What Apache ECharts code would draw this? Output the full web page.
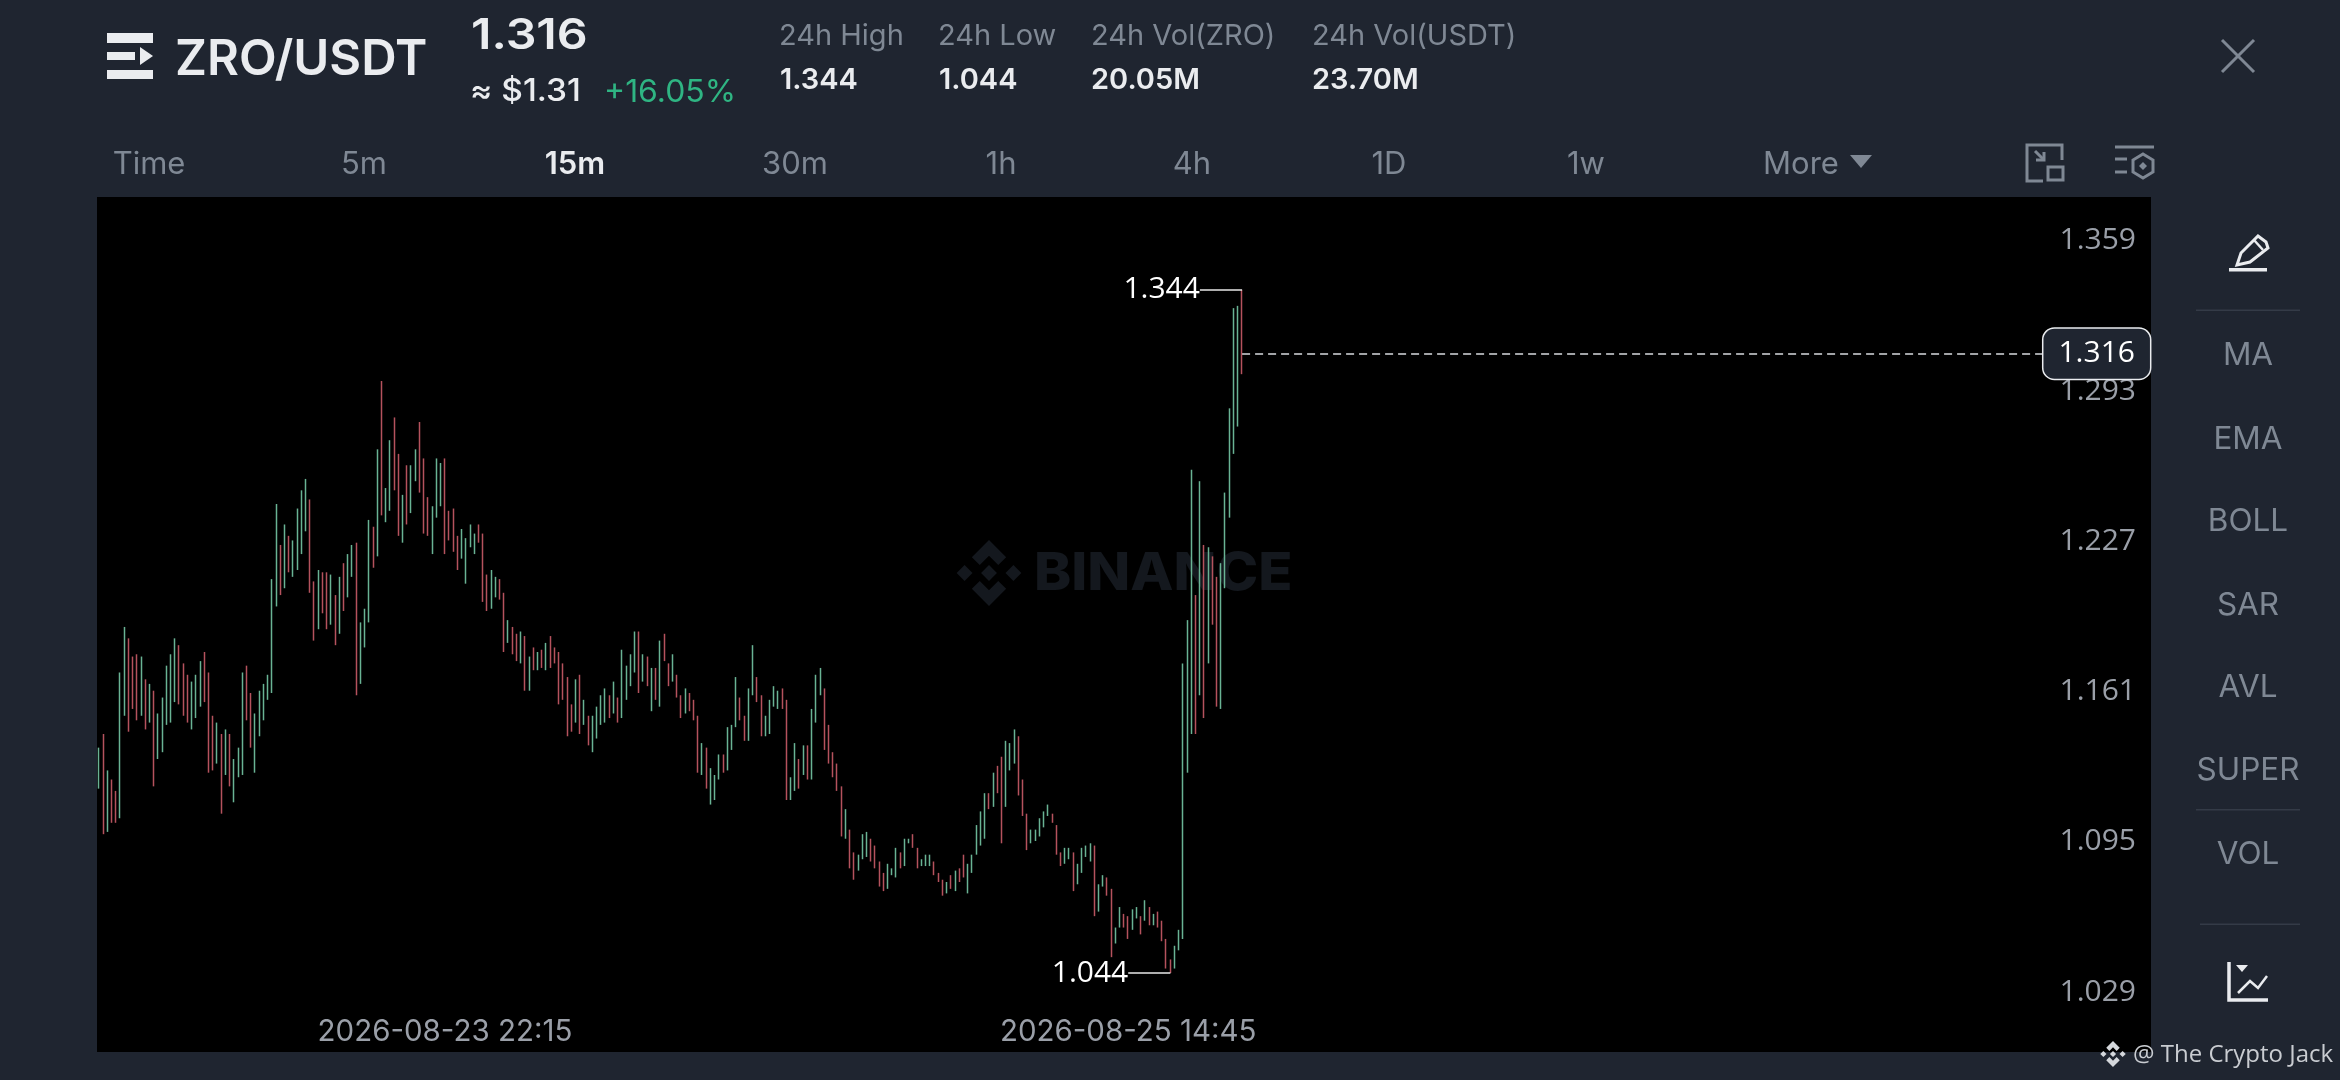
<!DOCTYPE html>
<html>
<head>
<meta charset="utf-8">
<style>html,body{margin:0;padding:0;background:#1f2530}#chart{width:2340px;height:1080px}</style>
<script src="https://cdn.jsdelivr.net/npm/echarts@6/dist/echarts.min.js"></script>
</head>
<body>
<div id="chart"></div>
<script>
const barHigh = [
1.143,1.149,1.133,1.129,1.124,1.176,1.196,1.191,1.183,1.184,
1.183,1.173,1.171,1.168,1.158,1.165,1.179,1.184,1.191,1.188,
1.180,1.175,1.172,1.175,1.181,1.185,1.176,1.157,1.154,1.149,
1.151,1.149,1.138,1.143,1.176,1.179,1.167,1.158,1.168,1.171,
1.175,1.217,1.250,1.232,1.241,1.236,1.234,1.248,1.256,1.261,
1.252,1.216,1.221,1.220,1.220,1.219,1.210,1.218,1.224,1.228,
1.232,1.233,1.198,1.204,1.243,1.240,1.274,1.304,1.257,1.278,
1.288,1.272,1.254,1.267,1.267,1.274,1.286,1.270,1.253,1.249,
1.270,1.268,1.270,1.247,1.248,1.236,1.239,1.235,1.241,1.237,
1.241,1.237,1.219,1.221,1.218,1.217,1.211,1.199,1.196,1.193,
1.194,1.192,1.183,1.187,1.185,1.186,1.189,1.192,1.187,1.185,
1.180,1.174,1.162,1.173,1.175,1.164,1.157,1.157,1.161,1.166,
1.169,1.166,1.172,1.165,1.186,1.179,1.184,1.194,1.194,1.184,
1.183,1.178,1.178,1.190,1.193,1.180,1.184,1.175,1.166,1.169,
1.167,1.164,1.157,1.145,1.143,1.134,1.131,1.140,1.140,1.152,
1.153,1.174,1.165,1.157,1.169,1.188,1.174,1.166,1.157,1.164,
1.170,1.168,1.169,1.164,1.130,1.145,1.138,1.144,1.144,1.160,
1.175,1.178,1.169,1.153,1.141,1.136,1.126,1.116,1.107,1.097,
1.096,1.105,1.106,1.103,1.100,1.093,1.088,1.092,1.090,1.099,
1.097,1.103,1.103,1.105,1.099,1.094,1.096,1.096,1.093,1.088,
1.085,1.084,1.087,1.089,1.090,1.096,1.092,1.096,1.109,1.115,
1.123,1.123,1.132,1.135,1.139,1.146,1.145,1.151,1.148,1.129,
1.114,1.107,1.107,1.112,1.115,1.118,1.114,1.109,1.097,1.099,
1.099,1.097,1.092,1.099,1.100,1.101,1.100,1.083,1.087,1.086,
1.081,1.064,1.073,1.070,1.069,1.072,1.073,1.069,1.076,1.073,
1.070,1.071,1.067,1.059,1.050,1.056,1.063,1.180,1.199,1.265,
1.210,1.260,1.232,1.231,1.227,1.218,1.224,1.255,1.292,1.336,1.337,1.344];
const barLow = [
1.125,1.105,1.106,1.110,1.110,1.112,1.157,1.150,1.160,1.155,
1.157,1.151,1.154,1.126,1.138,1.141,1.153,1.154,1.163,1.162,
1.157,1.154,1.151,1.156,1.161,1.163,1.132,1.133,1.136,1.114,
1.131,1.126,1.119,1.130,1.131,1.155,1.143,1.132,1.148,1.155,
1.164,1.167,1.205,1.210,1.213,1.220,1.218,1.221,1.228,1.238,
1.211,1.190,1.195,1.202,1.195,1.197,1.188,1.193,1.203,1.209,
1.218,1.166,1.171,1.187,1.198,1.222,1.227,1.245,1.242,1.247,
1.256,1.236,1.233,1.241,1.246,1.260,1.255,1.237,1.236,1.228,
1.244,1.249,1.228,1.234,1.229,1.221,1.226,1.215,1.231,1.228,
1.233,1.207,1.203,1.204,1.209,1.208,1.185,1.189,1.184,1.181,
1.180,1.168,1.168,1.177,1.177,1.178,1.177,1.178,1.180,1.162,
1.164,1.148,1.150,1.154,1.149,1.153,1.144,1.141,1.147,1.153,
1.154,1.156,1.158,1.154,1.156,1.164,1.170,1.176,1.167,1.172,
1.170,1.159,1.164,1.161,1.181,1.170,1.172,1.165,1.156,1.158,
1.159,1.155,1.132,1.131,1.125,1.118,1.120,1.129,1.132,1.133,
1.142,1.152,1.155,1.146,1.146,1.166,1.163,1.148,1.148,1.149,
1.161,1.160,1.160,1.120,1.120,1.124,1.125,1.131,1.129,1.129,
1.154,1.166,1.142,1.136,1.130,1.124,1.104,1.103,1.090,1.085,
1.089,1.094,1.095,1.093,1.090,1.082,1.080,1.081,1.087,1.086,
1.090,1.091,1.101,1.099,1.090,1.091,1.091,1.091,1.087,1.084,
1.078,1.079,1.081,1.080,1.084,1.086,1.079,1.088,1.096,1.100,
1.103,1.116,1.117,1.123,1.101,1.117,1.133,1.136,1.122,1.113,
1.098,1.101,1.102,1.104,1.108,1.113,1.110,1.096,1.091,1.092,
1.094,1.080,1.083,1.088,1.095,1.093,1.069,1.071,1.082,1.078,
1.051,1.057,1.064,1.064,1.059,1.063,1.068,1.061,1.067,1.065,
1.065,1.064,1.058,1.046,1.044,1.046,1.054,1.059,1.132,1.149,
1.149,1.166,1.156,1.180,1.197,1.161,1.160,1.213,1.244,1.272,1.284,1.307];
const barSide = (
"GRGRRGGRRR"+"GRGRGGGGGR"+"RRGGGRRRGR"+"GRGGGRRGGG"+"GGGRGRGGGG"+
"RRGRRGRGRG"+"GRGGGRGRGG"+"RRGRGGRRRG"+"GGRRRRGGGG"+"RRRGGRRGRR"+
"GRGRGRGRRR"+"RRRGRGRGGG"+"GRGRGGGGRG"+"RGRGRRGRRG"+"RRRGRGGGRG"+
"GGRRGGRRGG"+"GGRRGGRGRG"+"GGRRRRRGRR"+"GGGRRRRGGG"+"RGGRRGGGRR"+
"RGRGRRGGGG"+"GRGRRGGGRR"+"RGGGGGRRRG"+"GRGGGGRGGR"+"RGGRRGGRGR"+
"GRRRRGGGGG"+"RGRGRRGGGGGR").split("");
const yTickValues = [1.029,1.095,1.161,1.227,1.293,1.359];
const xTickLabels = ["2026-08-23 22:15","2026-08-25 14:45"];
const highMark = 1.344, lowMark = 1.044, lastPrice = 1.316;
const firstBarTime = Date.UTC(2026,7,23,1,45);
const slotCount = 487;
const tabs = ["Time","5m","15m","30m","1h","4h","1D","1w","More"];
const indicators = ["MA","EMA","BOLL","SAR","AVL","SUPER","VOL"];

const pad = n => String(n).padStart(2,"0");
const categories = [];
for (let i = 0; i < slotCount; i++) {
  const d = new Date(firstBarTime + i*900000);
  categories.push(d.getUTCFullYear()+"-"+pad(d.getUTCMonth()+1)+"-"+pad(d.getUTCDate())+" "+pad(d.getUTCHours())+":"+pad(d.getUTCMinutes()));
}
const candleData = barHigh.map((h,i)=> barSide[i]==="G" ? [barLow[i],h,barLow[i],h] : [h,barLow[i],barLow[i],h]);

const FONT = 'Inter', NUMFONT = '"Open Sans"';
const GREY = "#7f8894", WHITE = "#eaecef", AXIS = "#9a9fa8";
function txt(text,x,y,size,color,weight,align,sx,fam){
  return {type:"text",x,y:y+1,scaleX:sx||1,z:20,silent:true,
    style:{text,x:0,y:0,font:(weight||400)+" "+size+"px "+(fam||FONT),fill:color,align:align||"left",verticalAlign:"middle"}};
}
function rect(x,y,w,h,fill,z){return {type:"rect",z:z||20,silent:true,shape:{x,y,width:w,height:h},style:{fill}};}
function line(pts,color,w){return {type:"polyline",z:20,silent:true,shape:{points:pts},style:{stroke:color,lineWidth:w,fill:null}};}
function poly(pts,fill,z){return {type:"polygon",z:z||20,silent:true,shape:{points:pts},style:{fill}};}
function logo(cx,cy,r,fill,z){
  const p=a=>a.map(q=>[cx+q[0]*r,cy+q[1]*r]);
  const dia=(dx,dy,s)=>[[dx,dy-s],[dx+s,dy],[dx,dy+s],[dx-s,dy]];
  return [
    poly(p(dia(0,0,.24)),fill,z),poly(p(dia(-.74,0,.24)),fill,z),poly(p(dia(.74,0,.24)),fill,z),
    poly(p([[0,-1],[.52,-.48],[.28,-.24],[0,-.52],[-.28,-.24],[-.52,-.48]]),fill,z),
    poly(p([[0,1],[.52,.48],[.28,.24],[0,.52],[-.28,.24],[-.52,.48]]),fill,z)
  ];
}
const tabX=[149,364,575,795,1001,1192,1389,1586,1801];
const sideY=[355,439,521,605,687,770,854];
const graphics=[
  ...logo(989,573,33,"#14181e",1),
  Object.assign(txt("BINANCE",1034,573,52,"#14181e",800,"left",1.08),{z:1}),
  rect(107,33,46,10,WHITE),rect(107,52,28,8,WHITE),poly([[140,47],[153,56],[140,65]],WHITE),rect(107,70,46,9,WHITE),
  txt("ZRO/USDT",175,59,49,WHITE,600),
  txt("1.316",471,35,42,WHITE,600,"left",1.15),
  txt("≈ $1.31",470,91,31,WHITE,500,"left",1.08),
  txt("+16.05%",604,92,31,"#2fb583",400,"left",1.03),
  txt("24h High",779,35,29,GREY),txt("1.344",780,79,29,WHITE,600),
  txt("24h Low",938,35,29,GREY),txt("1.044",939,79,29,WHITE,600),
  txt("24h Vol(ZRO)",1091,35,29,GREY),txt("20.05M",1091,79,29,WHITE,600),
  txt("24h Vol(USDT)",1312,35,29,GREY),txt("23.70M",1312,79,29,WHITE,600),
  line([[2222,40],[2254,72]],GREY,3),line([[2254,40],[2222,72]],GREY,3),
  ...tabs.map((t,i)=>txt(t,tabX[i],164,31,i===2?WHITE:GREY,i===2?600:400,"center")),
  poly([[1850,155],[1872,155],[1861,168]],GREY),
  line([[2043,181],[2027,181],[2027,145],[2062,145],[2062,160]],GREY,3),
  {type:"rect",z:20,silent:true,shape:{x:2048,y:167,width:15,height:13},style:{stroke:GREY,lineWidth:3,fill:null}},
  line([[2035,151],[2044,160]],GREY,3),line([[2044,152],[2044,160],[2036,160]],GREY,3),
  line([[2115,147],[2154,147]],GREY,3),line([[2115,159],[2127,159]],GREY,3),line([[2115,172],[2127,172]],GREY,3),
  poly([[2143,162],[2147,166],[2143,170],[2139,166]],GREY),
  {type:"polygon",z:20,silent:true,shape:{points:[[2143,154],[2153,160],[2153,172],[2143,178],[2133,172],[2133,160]]},style:{stroke:GREY,lineWidth:3,fill:null}},
  rect(2229,268,38,3.5,WHITE),
  {type:"polygon",z:20,silent:true,shape:{points:[[2237,265],[2241,253],[2258,236],[2266,242],[2268,248],[2250,262]]},style:{stroke:WHITE,lineWidth:3,fill:null}},
  line([[2254,240],[2263,250]],WHITE,2.5),
  rect(2196,309.5,104,1.5,"#343b47"),rect(2196,809,104,1.5,"#343b47"),rect(2200,923.5,100,1.5,"#343b47"),
  ...indicators.map((t,i)=>txt(t,2248,sideY[i],31.5,GREY,400,"center")),
  line([[2229,962],[2229,1000],[2268,1000]],WHITE,3.5),
  poly([[2236,965],[2248,965],[2242,972]],WHITE),
  line([[2238,993],[2250,981],[2258,988],[2267,976]],WHITE,2.5),
  ...logo(2113,1054,13,"#d5d8dc",20),
  txt("@ The Crypto Jack",2133,1054,24,"#c9ccd1",400,"left",1,NUMFONT)
];

const markLabel = (v,pos)=>({show:true,position:pos,distance:0,formatter:v.toFixed(3),color:"#ffffff",fontFamily:NUMFONT,fontSize:30});
const option = {
  animation:false,
  backgroundColor:"#1f2530",
  grid:{show:true,left:97,top:197,width:2054,height:855,backgroundColor:"#000000",borderWidth:0},
  graphic:{elements:graphics},
  xAxis:{type:"category",data:categories,boundaryGap:true,
    axisLine:{show:false},axisTick:{show:false},splitLine:{show:false},
    axisLabel:{inside:true,margin:5,color:AXIS,fontFamily:FONT,fontSize:29.5,hideOverlap:false,
      interval:(i,v)=>xTickLabels.includes(v)}},
  yAxis:{type:"value",position:"right",scale:true,min:1.00935,max:1.3848,
    axisLine:{show:false},axisTick:{show:false},splitLine:{show:false},
    axisLabel:{inside:true,margin:15,color:AXIS,fontFamily:NUMFONT,fontSize:30,align:"right",verticalAlign:"bottom",
      padding:[0,0,0,0],customValues:yTickValues,formatter:v=>v.toFixed(3)}},
  series:[{
    type:"candlestick",data:candleData,barWidth:1,
    itemStyle:{color:"#69b394",color0:"#b5525d",borderColor:"#69b394",borderColor0:"#b5525d",borderWidth:1.5},
    markLine:{silent:true,symbol:["none","none"],animation:false,
      data:[
        [{coord:[261,highMark],lineStyle:{color:"#e8e8e8",width:1.5,type:"solid"},label:markLabel(highMark,"start")},
         {coord:[271,highMark]}],
        [{coord:[244,lowMark],lineStyle:{color:"#e8e8e8",width:1.5,type:"solid"},label:markLabel(lowMark,"start")},
         {coord:[254,lowMark]}],
        [{coord:[271,lastPrice],lineStyle:{color:"#d8dade",width:1.5,type:[8,5]},
          label:Object.assign(markLabel(lastPrice,"end"),{backgroundColor:"#1f2530",borderColor:"#eaecef",borderWidth:1.5,borderRadius:11,padding:[11,15,9,15]})},
         {coord:[461,lastPrice]}]
      ]}
  }]
};
const chart = echarts.init(document.getElementById("chart"),null,{renderer:"canvas",width:2340,height:1080});
chart.setOption(option);
</script>
</body>
</html>
